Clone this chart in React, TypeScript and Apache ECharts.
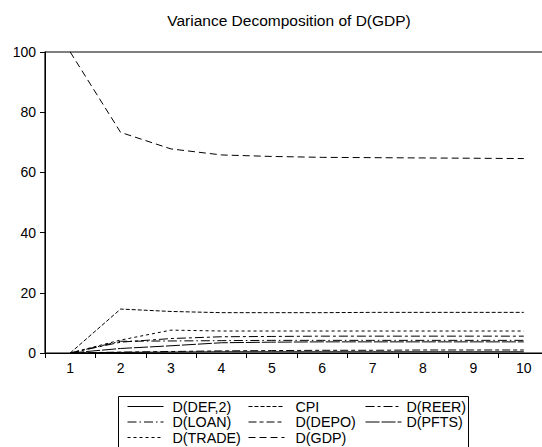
import React, { useEffect, useRef } from "react";
import * as echarts from "echarts";

const periods = ["1", "2", "3", "4", "5", "6", "7", "8", "9", "10"];
const yTicks = [0, 20, 40, 60, 80, 100];
const titleText = "Variance Decomposition of D(GDP)";

const defSeries = [0, 0.2, 0.3, 0.4, 0.4, 0.4, 0.4, 0.4, 0.4, 0.4];
const cpiSeries = [0, 14.6, 13.8, 13.4, 13.4, 13.4, 13.5, 13.5, 13.5, 13.5];
const reerSeries = [0, 3.6, 4.8, 5.4, 5.5, 5.6, 5.6, 5.6, 5.6, 5.6];
const loanSeries = [0, 3.9, 4.0, 4.1, 4.2, 4.2, 4.2, 4.2, 4.2, 4.2];
const depoSeries = [0, 0.3, 0.5, 0.7, 0.8, 0.9, 0.9, 1.0, 1.0, 1.0];
const pftsSeries = [0, 1.5, 2.4, 3.4, 3.6, 3.7, 3.7, 3.7, 3.7, 3.7];
const tradeSeries = [0, 4.3, 7.6, 7.3, 7.3, 7.3, 7.3, 7.3, 7.3, 7.3];
const gdpSeries = [100, 73.3, 67.8, 65.8, 65.3, 65.0, 64.9, 64.8, 64.7, 64.6];

const FONT = "'Liberation Sans', Arial, sans-serif";

const seriesDefs = [
  { name: "D(DEF,2)", data: defSeries, dash: "solid" as any },
  { name: "CPI", data: cpiSeries, dash: [4, 2] },
  { name: "D(REER)", data: reerSeries, dash: [9, 3, 3, 3] },
  { name: "D(LOAN)", data: loanSeries, dash: [9, 3, 1.5, 3] },
  { name: "D(DEPO)", data: depoSeries, dash: [8, 3, 4, 3] },
  { name: "D(PFTS)", data: pftsSeries, dash: [14, 2] },
  { name: "D(TRADE)", data: tradeSeries, dash: [3, 3] },
  { name: "D(GDP)", data: gdpSeries, dash: [7, 4] },
];

// legend layout: [name, column, row]
const legendCells: [string, number, number][] = [
  ["D(DEF,2)", 0, 0],
  ["CPI", 1, 0],
  ["D(REER)", 2, 0],
  ["D(LOAN)", 0, 1],
  ["D(DEPO)", 1, 1],
  ["D(PFTS)", 2, 1],
  ["D(TRADE)", 0, 2],
  ["D(GDP)", 1, 2],
];
const colLeft = [127, 248, 365];
const colPad = [4, 6, 0];
const rowTop = [399.5, 415, 430.5];

export default function App() {
  const ref = useRef<HTMLDivElement>(null);
  useEffect(() => {
    if (!ref.current) return;
    const chart = echarts.init(ref.current, null, { renderer: "svg" });
    chart.setOption({
      animation: false,
      backgroundColor: "#fff",
      textStyle: { fontFamily: FONT },
      graphic: [
        {
          type: "text",
          x: 289,
          y: 20,
          style: {
            text: titleText,
            fontSize: 15.5,
            fontFamily: FONT,
            fill: "#000",
            align: "center",
            verticalAlign: "middle",
          },
        },
        {
          type: "rect",
          shape: { x: 118.5, y: 396.5, width: 350, height: 60 },
          style: { fill: "none", stroke: "#000", lineWidth: 1 },
          z: 1,
        },
      ],
      grid: {
        left: 45,
        right: 0,
        top: 52,
        bottom: 94,
        show: true,
        borderColor: "#000",
        borderWidth: 1.2,
        backgroundColor: "transparent",
      },
      legend: legendCells.map(([name, c, r]) => ({
        orient: "horizontal",
        left: colLeft[c],
        top: rowTop[r],
        data: [name],
        itemWidth: 36,
        itemHeight: 12,
        padding: 0,
        itemStyle: { opacity: 0 },
        lineStyle: { width: 1 },
        textStyle: {
          fontSize: 14.3,
          fontFamily: FONT,
          color: "#000",
          padding: [0, 0, 0, colPad[c]],
        },
      })),
      xAxis: {
        type: "category",
        data: periods,
        boundaryGap: true,
        axisLine: { show: true, lineStyle: { color: "#000", width: 1 } },
        axisTick: { show: true, length: 5, lineStyle: { color: "#000" } },
        axisLabel: { fontSize: 14, color: "#000", margin: 8, fontFamily: FONT },
        splitLine: { show: false },
      },
      yAxis: {
        type: "value",
        min: yTicks[0],
        max: yTicks[yTicks.length - 1],
        interval: 20,
        axisLine: { show: true, lineStyle: { color: "#000", width: 1 } },
        axisTick: { show: true, length: 5, lineStyle: { color: "#000" } },
        axisLabel: { fontSize: 14, color: "#000", margin: 9, fontFamily: FONT },
        splitLine: { show: false },
      },
      series: seriesDefs.map((s) => ({
        name: s.name,
        type: "line",
        data: s.data,
        symbol: "none",
        showSymbol: false,
        lineStyle: { color: "#000", width: 1, type: s.dash },
        itemStyle: { color: "#000" },
      })),
    });
    return () => chart.dispose();
  }, []);
  return (
    <div
      style={{
        position: "absolute",
        left: 0,
        top: 0,
        width: 542,
        height: 447,
        overflow: "hidden",
        background: "#fff",
      }}
    >
      <div ref={ref} style={{ width: 549, height: 447 }} />
    </div>
  );
}
